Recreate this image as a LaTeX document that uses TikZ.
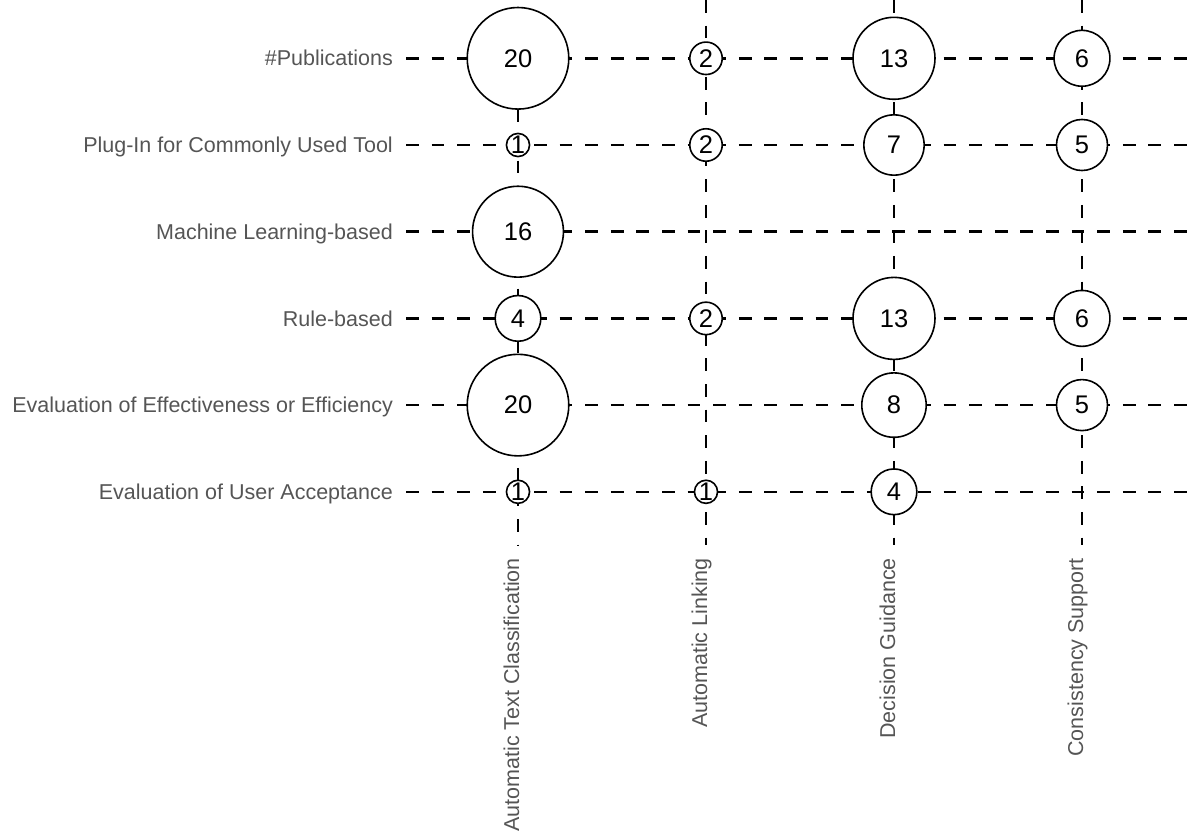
\documentclass[tikz,border=0pt]{standalone}
\usepackage{fontspec}
\setmainfont{Liberation Sans}
\definecolor{labelgray}{RGB}{85,85,85}
\begin{document}
\begin{tikzpicture}[x=1pt,y=-1pt,
  gridline/.style={line width=2.6pt, dash pattern=on 12.8pt off 12.8pt, black},
  rowlabel/.style={anchor=base east, inner sep=0pt, text=labelgray,
    font=\fontsize{21.5}{26}\selectfont},
  collabel/.style={anchor=base east, rotate=90, inner sep=0pt, text=labelgray,
    font=\fontsize{21.5}{26}\selectfont},
  bubble/.style={circle, draw=black, line width=1.6pt, fill=white, inner sep=0pt,
    minimum size=#1, font=\fontsize{25.5}{30}\selectfont},
]
\useasboundingbox (0,0) rectangle (1192,837);

% row labels and the ends of the horizontal grid lines
\foreach \i/\y/\t in {1/58.3/\#Publications,
                      2/145.0/Plug-In for Commonly Used Tool,
                      3/231.7/Machine Learning-based,
                      4/318.4/Rule-based,
                      5/405.1/Evaluation of Effectiveness or Efficiency,
                      6/491.8/Evaluation of User Acceptance}{
  \node[rowlabel] (r\i) at (393,\y+7.7) {\t};
  \coordinate (hs\i) at (406,\y);
  \coordinate (he\i) at (1192,\y);
}

% column labels and the ends of the vertical grid lines
\foreach \j/\x/\t in {1/518/Automatic Text Classification,
                      2/706/Automatic Linking,
                      3/894/Decision Guidance,
                      4/1082/Consistency Support}{
  \node[collabel] (k\j) at (\x+1,558) {\t};
  \coordinate (kt\j) at (\x,0);
  \coordinate (kb\j) at (\x,545);
}
\coordinate (kt1) at (518,58.3);

% dashed grid
\foreach \i in {1,...,6}{ \draw[gridline] (hs\i) -- (he\i); }
\foreach \j in {1,...,4}{ \draw[gridline] (kt\j) -- (kb\j); }

% bubbles: row / column / count, area proportional to the count
\foreach \i/\j/\n in {1/1/20, 1/2/2, 1/3/13, 1/4/6,
                      2/1/1,  2/2/2, 2/3/7,  2/4/5,
                      3/1/16,
                      4/1/4,  4/2/2, 4/3/13, 4/4/6,
                      5/1/20, 5/3/8, 5/4/5,
                      6/1/1,  6/2/1, 6/3/4}{
  \pgfmathsetmacro{\dia}{22.6*sqrt(\n)+0.5}
  \path (hs\i -| kt\j) node[bubble=\dia pt] (c-\i-\j) {\n};
}
\end{tikzpicture}
\end{document}
